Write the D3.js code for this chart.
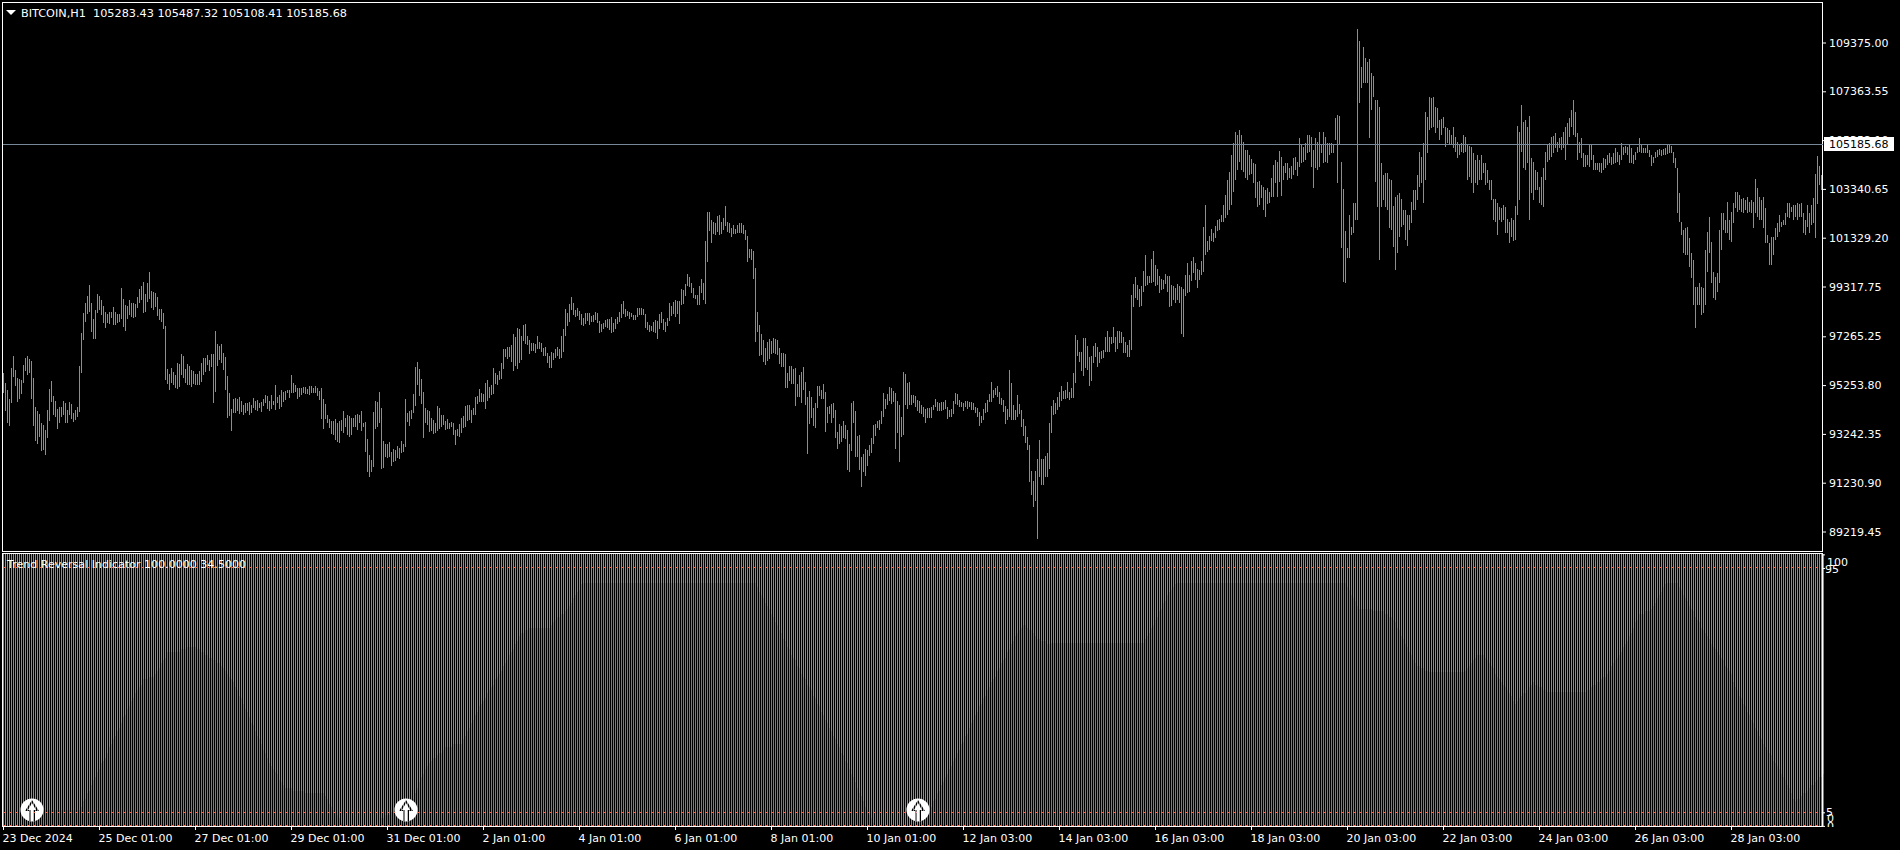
<!DOCTYPE html>
<html><head><meta charset="utf-8">
<script src="https://cdn.jsdelivr.net/npm/d3@7"></script>
<style>
html,body{margin:0;padding:0;background:#000;overflow:hidden}
svg{display:block}
text{font-family:"DejaVu Sans",sans-serif;font-size:11px;fill:#fff;white-space:pre}
</style></head><body>
<svg id="c" width="1900" height="850"></svg>
<script>
const symbolTitle="BITCOIN,H1  105283.43 105487.32 105108.41 105185.68";
const indicatorTitle="Trend Reversal Indicator 100.0000 34.5000";
const lastPrice=105185.68;
const priceTicks=[109375,107363.55,105352.10,103340.65,101329.20,99317.75,97265.25,95253.80,93242.35,91230.90,89219.45];
const dateLabels=["23 Dec 2024","25 Dec 01:00","27 Dec 01:00","29 Dec 01:00","31 Dec 01:00","2 Jan 01:00","4 Jan 01:00","6 Jan 01:00","8 Jan 01:00","10 Jan 01:00","12 Jan 03:00","14 Jan 03:00","16 Jan 03:00","18 Jan 03:00","20 Jan 03:00","22 Jan 03:00","24 Jan 03:00","26 Jan 03:00","28 Jan 03:00"];
const dateBars=[0,48,96,144,192,240,288,336,384,432,480,528,576,624,672,720,768,816,864];
const levelLines=[95,5,0];
const arrowBars=[14,201,457];
// [high, low] of each H1 bar
const priceBars=[
[95735,94911],[95323,94197],[95048,93674],[94664,93578],[95955,94499],[96450,95571],[95873,95213],[95529,94567],[95488,94691],[95461,94883],
[96079,95351],[96381,95845],[96450,95680],[96326,95735],[96244,94691],[95543,93578],[94361,92960],[94183,92823],[94059,93125],[93674,92548],
[93606,92575],[93400,92383],[94224,93084],[95090,93770],[95419,94567],[94801,94018],[94581,93949],[94265,93455],[94348,93702],[94348,93949],
[94595,94018],[94499,93702],[94224,93702],[94554,94004],[94471,93840],[94100,93730],[94224,93812],[94348,93949],[96038,94156],[97384,95763],
[98209,97109],[98621,97865],[98923,98181],[99376,98277],[98621,97453],[97961,97164],[98346,97164],[99006,98236],[98923,98346],[98758,98140],
[98511,97796],[98277,97604],[98181,97796],[98277,97769],[98277,98003],[98456,97727],[98264,97741],[98181,97796],[98181,97865],[99253,97961],
[98786,97632],[98552,97494],[98511,97961],[98758,98140],[98621,98071],[98621,98016],[98593,98071],[98896,98429],[99211,98621],[99335,98758],
[99500,98236],[99006,98250],[99473,98690],[99912,98786],[99115,98415],[99088,98346],[99033,98484],[98896,98099],[98373,97934],[98373,97865],
[98209,97563],[97687,95461],[95914,95296],[95708,95048],[95955,95323],[95804,95255],[95667,95117],[96147,95090],[96120,95158],[96532,95667],
[96450,95529],[95914,95323],[96120,95268],[96038,95255],[95873,95186],[95845,95296],[95708,95255],[95708,95255],[95832,95255],[96147,95392],
[96367,95667],[96367,95804],[96491,96079],[96285,95845],[96532,96010],[96532,94526],[97481,94980],[96944,96038],[96862,96285],[96944,96175],
[96560,95873],[96422,95048],[95626,93894],[94911,93977],[94265,93372],[94677,94114],[94705,94087],[94677,94197],[94773,94059],[94581,94142],
[94430,94018],[94499,94114],[94526,94197],[94567,94032],[94430,94114],[94718,94293],[94581,94224],[94636,94196],[94499,94306],[94567,94155],
[94663,94389],[94828,94499],[94801,94251],[94608,94196],[94842,94279],[94608,94416],[95255,94224],[94773,94499],[94842,94279],[95048,94361],
[94979,94567],[95020,94636],[95048,94938],[95048,94705],[95667,94938],[95351,94938],[95255,94979],[95131,94677],[95131,94746],[95131,94842],
[95186,94911],[95186,94882],[95076,94883],[95213,94842],[95213,94911],[95117,94938],[95213,94911],[95117,94801],[95021,94636],[95131,93853],
[94677,93440],[94471,93853],[94018,93675],[93853,93468],[93784,93235],[93770,93194],[93853,92987],[93674,92919],[93770,92878],[93812,93372],
[94183,93263],[93908,93509],[94018,93194],[93990,93125],[93908,93194],[93881,93537],[94018,93537],[94045,93400],[94018,93674],[94183,93358],
[93702,93537],[93715,92507],[93029,91682],[92369,91448],[92163,91682],[94155,91860],[94595,93441],[94540,93537],[94966,93674],[94306,91778],
[92946,91819],[92822,92273],[92822,92232],[92891,92300],
[92506,91915],[92616,92094],[92575,92135],[92740,92231],[92671,92204],[92946,92437],[92822,92506],[94677,92685],[94114,93743],[94196,93564],
[94224,93839],[94883,94114],[96010,94388],[96202,95254],[95914,94800],[95488,94471],[94965,93069],[94306,93674],[94224,93592],[94196,93317],
[93894,93372],[93811,93234],[93702,93289],[94388,93344],[94306,93454],[94017,93537],[94017,93592],[93784,93399],[93853,93454],[93702,93454],
[93729,93509],[93674,93193],[93399,92781],[93454,93152],[93646,93097],[93894,93262],[93976,93481],[94388,93509],[94430,93756],[94430,93811],
[94224,93674],[94293,94017],[94773,94017],[94801,94471],[95089,94553],[94938,94553],[94883,94553],[95350,94265],[95460,94608],[95185,94704],
[95254,94842],[95955,94883],[95762,95295],[95666,95268],[95831,95460],[96175,95515],[96752,95914],[96752,96422],[96834,96326],[96834,96395],
[96903,96216],[97356,95831],[97246,96037],[97604,95914],[97562,96175],[97274,96285],[97727,97068],[97769,96944],[97274,96903],[97123,96532],
[97000,96642],[96972,96670],[96944,96587],[97274,96724],[97027,96752],[96985,96628],[96793,96463],[96807,96463],[96560,96175],[96463,95955],
[96614,95955],[96560,96285],[96752,96353],[96807,96450],[96752,96340],[97288,96353],[97562,96614],[98387,97274],[98222,97700],[98593,97851],
[98881,98346],[98634,98140],[98346,98043],[98442,98098],[98318,97933],[98181,97714],[98016,97686],[98236,97768],[98208,97906],[98208,97727],
[98098,97851],[98140,97865],[98263,97933],[98236,97796],[97906,97411],[97768,97439],[97796,97576],[97933,97631],[97975,97604],[97988,97521],
[98071,97411],[97796,97439],[97975,97549],[98043,97768],[98263,97865],[98593,98002],[98717,98181],[98373,98043],[98318,98098],[98263,97961],
[98236,98043],[98140,97947],[98140,97933],[98428,98043],[98428,98126],[98428,98126],[98401,98153],[98181,97604],[97851,97521],[97727,97439],
[97686,97494],[97851,97452],[97933,97384],[97906,97164],[98181,97576],[98263,97823],[97961,97521],[97851,97439],[98016,97686],[98634,97906],
[98510,98098],[98675,98181],[98758,98043],[98717,98181],[98730,97768],[99211,98538],[99170,98593],[99417,98923],[99830,99335],[99692,99307],
[99472,99060],[99239,98840],[98964,98785],[98950,98552],[99335,98552],[99623,99033],[99459,98758],[101190,98593],[102385,100338],[102385,101616],
[102055,101107],[101973,101478],[101932,101423],[102220,101561],[102261,101437],[101973,101478],[102124,101643],[102632,101808],[101973,101561],[101932,101506],
[101726,101355],[101849,101478],[101684,101478],[101849,101506],[101932,101506],[101932,101506],[101849,101478],[101643,101231],[101396,100324],[100846,100475],
[100860,100407],[100778,99623],[100077,97027],[98263,97439],[97727,96449],[97356,96491],[97109,96202],[96779,96079],[97027,96257],[97150,96312],
[97068,96532],[97191,96587],[97150,96532],[97109,96491],[96779,96120],[96560,96010],[96573,95982],[96532,95130],[95749,95130],[96037,95433],
[96037,95295],[95927,95295],[95955,94388],[95295,94746],[95666,94746],[95790,94498],[95996,95048],[95378,94430],[94760,92410],[95007,93646],
[94760,93894],[94306,93564],[94512,93481],[95213,94306],[95213,94801],[95048,94677],[95295,94677],[94965,93317],[94361,93674],[94388,94059],
[94471,93674],[94512,93880],[94224,93069],[93317,92616],[93646,92822],[93564,92905],[93770,93069],[93605,93042],[93399,91750],[92822,91668],
[94526,92548],[94595,93702],[94197,92273],[93152,92301],[93194,91751],[92301,91064],[92411,91682],[92617,91503],[92575,91916],[92782,92328],
[93070,92466],[93606,92823],[93647,93152],[93785,93469],[93812,93400],[94197,93647],[94925,93950],[94677,94279],[94884,94430],[95172,94609],
[95131,94471],[95021,94568],[94925,92617],[94595,93262],[94430,92095],[93950,93125],[95791,93194],[95708,94430],[95324,94279],[95392,94430],
[94843,94430],[94843,94499],[94801,94362],[94636,94197],[94595,94087],[94430,94059],[94362,93950],[94252,93702],[94293,93881],[94320,93881],
[94334,93881],[94430,94224],[94677,94334],[94568,94197],[94526,94197],[94568,94197],[94568,94224],[94636,94252],[94362,93853],[94224,93950],
[94265,93950],[94595,94059],[94939,94471],[94884,94430],[94636,94362],[94568,94334],[94526,94197],[94595,94334],[94609,94279],[94568,94362],
[94568,94224],[94526,94224],[94362,94114],[94293,93950],[94155,93565],[93977,93675],[94252,93812],[94526,94114],[94636,94155],[94884,94568],
[95378,94568],[95049,94705],[95131,94843],[95213,94774],[94966,94471],[94719,94430],[94636,94155],[94389,93647],[94265,93812],[95873,93950],
[95324,93812],[94430,93812],[94224,93812],[94856,93950],[94471,94059],[94224,93537],[93853,93152],[93565,92850],[93111,92575],[92782,91270],
[91710,90720],[91284,90212],[91696,90487],[92218,88907],[92988,91476],[92204,91133],[92204,91133],[92328,91476],[92452,91476],[93688,91792],
[94389,93290],[94636,94032],[94526,94059],[94774,94224],[94966,94362],[95213,94595],[95021,94677],[95049,94677],[95378,94705],[94966,94636],
[95117,94719],[95749,94719],[97316,95351],[97110,96450],[96629,96216],[96629,95846],[97192,95626],[97192,95942],[96876,95873],[96423,95227],
[96450,95433],[96876,96148],[97000,96423],[96835,96010],[96615,96175],[96670,96313],[96697,96368],[97247,96615],[97481,96629],[97247,96629],
[97247,96945],[97645,96972],[97247,96615],[97481,96725],[97467,97000],[97453,97000],[97247,96587],[97027,96560],[96903,96423],[97110,96423],
[98964,96697],[99418,98456],[99693,98827],[99377,98758],[99212,98484],[99335,98511],[99954,99102],[100613,99335],[99748,99363],[99748,99445],
[100448,99473],[100778,99514],[100201,99335],[100036,99377],[99748,99061],[99624,99171],[99583,99198],[99830,99418],[99748,99102],[99748,98484],
[99377,98511],[99335,98758],[99239,98621],[99418,98758],[99335,98621],[99308,97357],[99212,97220],[99789,98923],[100284,99061],[99789,99102],
[100366,99555],[100531,99858],[100284,99583],[100036,99253],[99995,99583],[100366,99789],[101781,99926],[102674,100613],[101203,100750],[101397,100820],
[101685,101190],[101520,101150],[101800,101315],[102056,101605],[102100,101640],[102260,101975],[102674,101975],[103086,102138],[103704,102262],[104034,102468],
[104734,102674],[105229,103210],[105682,103704],[105559,104116],[105765,104446],[105559,104116],[105270,104034],[104940,103787],[104940,103704],[104734,103910],
[104555,103950],[104417,103565],[104362,102947],[103634,102576],[103662,102672],[103497,102947],[103428,102466],[103291,102164],[103359,102713],[103222,102768],
[103771,103016],[104321,103016],[104527,103565],[104458,103016],[104912,103634],[104637,103043],[104280,103703],[104390,103978],[104390,103703],[104184,103771],
[104280,103730],[104596,103909],[104665,104115],[104458,103868],[105420,104252],[105145,104390],[105077,104458],[105214,104527],[105558,104830],[105558,104871],
[105489,104252],[104939,103359],[105420,104184],[105283,104115],[105695,104252],[105145,104802],[105695,104390],[105462,104458],[105214,104390],[105214,104733],
[105241,104802],[105145,104802],[106245,105352],[106382,103565],[106341,105187],[104458,100886],[103332,99512],[101614,99443],[100886,100474],[102260,100474],
[101779,101436],[102741,101504],[102768,102054],[109913,102054],[109446,106890],[108374,107481],[109199,107687],[108718,107687],[108580,107687],[108677,105420],
[108100,106588],[107990,107110],[107000,103634],[107000,102604],[106698,100405],[104390,102604],[103909,102878],[104005,102604],[103978,102466],[103730,101711],
[103703,101642],[102631,100955],[103016,99993],[103084,100680],[103153,101367],[102906,101779],[102466,101848],[102466,101230],[102260,100982],[102260,101642],
[102809,101917],[103291,102466],[103291,102466],[103909,102878],[104871,103428],[104665,103565],[105214,102741],[106519,103703],[106313,104802],[107138,105764],
[107069,105833],[107110,105901],[106726,105626],[106657,105833],[106176,105352],[106203,105558],[106313,105833],[105901,105077],[105833,105214],[105764,105145],
[105558,105145],[105901,105008],[105489,104871],[105283,104596],[105145,104733],[105214,104871],[105558,104802],[105489,104871],[105145,103703],[105104,103840],
[105077,103565],[104802,103153],[104527,103565],[104733,103497],[104527,103703],[104733,103703],[104390,103978],[104390,103497],[104115,103565],[103703,103291],
[103703,102878],[102906,102054],[102906,101985],[102741,101436],[102604,102054],[102535,101985],[102672,102054],[102604,101504],[102081,101504],[101985,101092],
[102123,101367],[102054,101202],[102631,101230],[105929,102260],[105695,102878],[106794,104871],[106107,104184],[106176,104115],[105901,104390],[106341,102054],
[104596,103153],[104458,102878],[104115,103291],[104046,103291],[103428,102741],[103840,102672],[104184,102604],[104871,103703],[105145,104458],[105214,104527],
[105489,104665],[105516,104802],[105654,105008],[105283,104871],[105420,105008],[105489,104939],[105695,105008],[105901,104527],[106039,105145],[106245,105489],
[106588,105901],[107000,105558],[106519,105489],[105654,104527],[105283,104802],[105420,104596],[104802,104252],[104733,104252],[104733,104321],[105145,104252],
[105145,104527],[104733,104115],[104390,104115],[104417,104115],[104390,104046],[104390,103978],[104596,104115],[104555,104184],[104733,104321],[104802,104390],
[104665,104321],[104802,104362],[105008,104390],[104871,104458],[104733,104321],[105214,104527],[105077,104733],[105104,104802],[105049,104733],[105145,104390],
[105008,104390],[104733,104362],[104871,104527],[105077,104802],[105420,104871],[105145,104830],[105008,104802],[105008,104802],[105145,104802],[104939,104637],
[104733,104280],[104665,104390],[104871,104596],[104939,104665],[104967,104733],[104939,104692],[104967,104733],[105008,104733],[105145,104774],[105145,104802],
[105104,104802],[104871,104417],[104596,104184],[104184,102356],[103153,101985],[101985,101436],[101642,100680],[101711,100611],[101779,100611],[101298,100130],
[100680,99650],[100405,98550],[99306,97588],[99306,98550],[99443,98550],[99306,98138],[99237,98207],[100817,98550],[101573,99925],[102191,100680],
[101161,99443],[99925,98825],[99718,98756],[99856,99100],[101642,99443],[102329,100817],[102329,101642],[102054,101504],[102809,101504],[102054,101230],
[102397,101161],[102741,101917],[103222,102535],[103222,102397],[103084,102466],[102906,102397],[102947,102329],[102878,102466],[103016,102329],[102809,102397],
[102878,102329],[102809,101711],[103730,102329],[103359,102191],[103016,102054],[102878,102054],[103016,101711],[102535,101092],[101436,101092],[101092,100199],
[101367,100199],[101367,100611],[101711,101230],[101917,101367],[102260,101573],[101985,101779],[102054,101848],[102329,101848],[102768,102191],[102741,102123],
[102604,102397],[102672,102054],[102672,102191],[102741,102054],[102713,102191],[102741,102191],[102329,101504],[102054,101436],[102672,101779],[102329,101504],
[102672,101848],[102947,101917],[103950,101298],[104692,102713],[104280,103497],[103909,103291]
];
// indicator level (blue part) of each bar
const indicatorValues=[
0,0,0,0,0,0,0,0,0,0,
5.9,5.9,5.9,5.9,5.9,5.9,5.9,5.9,5.9,5.9,5.9,5.9,5.9,5.9,5.9,5.9,5.9,5.9,5.9,5.9,5.9,5.9,5.9,5.9,5.9,5.9,5.9,5.9,5.9,
7,9,10,12,13,15,17,18,20,21,23,24,25,
27,29,30,32,33,35,36,38,40,41,43,44,46,47,49,
50,51,52,54,54,54,55,55,55,56,57,58,60,61,62,64,64,64,64,64,64,64,65,65,65,66,66,66,66,66,65,
65,64,64,63,63,62,62,61,61,60,60,59,58,57,56,55,54,53,51,50,48,47,45,43,42,40,38,37,35,33,32,30,28,27,25,23,
22,21,20,19,17,16,15,14,14,14,14,13,13,13,13,13,13,12,12,12,12,12,12,12,12,12,12,11,10,8,7,6,5,4,3,1,0,
0,0,0,0,0,0,0,0,0,0,0,0,0,0,0,0,0,0,
3,3,4,4,4,5,5,5,5,5,6,6,7,7,8,9,10,12,14,16,18,19,21,22,23,24,25,25,26,27,27,28,29,29,29,29,30,30,30,30,30,
32,33,35,36,38,39,41,42,44,45,46,47,49,50,51,52,54,55,56,57,59,60,61,63,64,65,67,68,70,71,71,72,72,73,
73,73,73,73,73,73,73,73,73,73,74,75,76,77,77,78,78,79,80,81,82,84,85,86,87,89,
89.4,89.4,89.4,89.4,89.4,89.4,89.4,89.4,89.4,89.4,89.4,89.4,89.4,89.4,89.4,89.4,89.4,89.4,89.4,89.4,89.4,89.4,89.4,89.4,89.4,89.4,89.4,89.4,89.4,
89.4,89.4,89.4,89.4,89.4,89.4,89.4,89.4,89.4,89.4,89.4,89.4,89.4,89.4,89.4,89.4,89.4,89.4,89.4,89.4,89.4,89.4,89.4,89.4,89.4,89.4,89.4,89.4,89.4,
89.4,89.4,89.4,89.4,89.4,89.4,89.4,89.4,89.4,89.4,89.4,89.4,89.4,89.4,89.4,89.4,89.4,89.4,89.4,89.4,89.4,89.4,89.4,89.4,89.4,89.4,89.4,89.4,89.4,
88,86,85,84,82,81,80,78,77,75,74,72,71,69,68,66,65,63,62,61,59,58,56,55,54,52,51,
50,48,47,45,44,42,41,39,38,36,35,33,32,30,29,27,26,24,23,21,19,18,16,14,12,11,9,7,6,4,3,1,0,
0,0,0,0,0,0,0,0,0,0,0,0,0,0,0,0,0,0,0,0,0,0,0,
1,3,4,6,7,9,10,12,13,15,16,18,19,21,22,24,25,27,28,30,31,33,34,36,38,39,41,42,44,45,47,48,50,
51,53,54,55,57,58,60,61,62,64,65,67,68,70,71,72,73,74,74,73,72,72,71,70,69,69,68,68,68,67,67,
67.3,67.3,67.3,67.3,67.3,67.3,67.3,67.3,67.3,67.3,67.3,67.3,67.3,67.3,67.3,67.3,67.3,67.3,67.3,67.3,67.3,67.3,67.3,
67.3,67.3,67.3,67.3,67.3,67.3,67.3,67.3,67.3,67.3,67.3,67.3,67.3,67.3,67.3,67.3,67.3,67.3,67.3,67.3,67.3,67.3,67.3,67.3,
69,70,71,73,74,76,77,79,80,82,83,85,86,87,88,89,
89.4,89.4,89.4,89.4,89.4,89.4,89.4,89.4,89.4,89.4,89.4,89.4,89.4,89.4,89.4,89.4,89.4,89.4,89.4,89.4,89.4,89.4,89.4,89.4,89.4,89.4,89.4,89.4,
89.4,89.4,89.4,89.4,89.4,89.4,89.4,89.4,89.4,89.4,89.4,89.4,89.4,89.4,89.4,89.4,89.4,89.4,89.4,89.4,89.4,89.4,89.4,89.4,89.4,89.4,89.4,89.4,
89.4,89.4,89.4,89.4,89.4,89.4,89.4,89.4,89.4,89.4,89.4,89.4,89.4,89.4,89.4,89.4,89.4,89.4,89.4,89.4,89.4,89.4,89.4,89.4,89.4,89.4,89.4,89.4,89.4,
88,87,85,84,83,81,80,80,80,80,80,80,80,79,79,79,79,79,79,78,78,77,77,76,75,73,72,70,69,67,66,64,63,61,60,59,59,58,58,57,57,
56.8,56.8,56.8,56.8,56.8,56.8,56.8,56.8,56.8,56.8,56.8,56.8,56.8,56.8,56.8,56.8,56.8,56.8,
57,58,59,60,61,62,63,63,63,63,62,61,60,59,58,56,55,54,53,52,51,50,49,48,46,45,46,47,48,49,49,50,51,52,53,52,52,51,51,50,50,
49.5,49.5,49.5,49.5,49.5,49.5,49.5,49.5,49.5,49.5,49.5,49.5,49.5,49.5,49.5,49.5,49.5,49.5,49.5,49.5,
50,50,51,52,52,53,53,54,55,55,56,57,59,60,61,62,63,64,66,67,68,70,71,73,75,76,78,78,78,79,79,79,80,81,82,84,85,86,88,89,
89.4,89.4,89.4,89.4,89.4,89.4,
88,87,85,84,83,81,80,79,77,76,75,73,72,71,70,69,67,66,65,64,63,62,61,59,58,57,56,53,51,
50,48,47,45,44,42,41,39,38,36,35,33,32,30,29,28,27,26,24,23,22,21,19,18,17,15,14,12,10,
9,10,10,11,12,12,13,14,15,15,16,17,18,18,19
];

const svg=d3.select("#c");
const x=d3.scaleLinear().domain([0,909]).range([3,1821]);
const yPrice=d3.scaleLinear().domain([109375,89219.45]).range([42.5,531.5]);
const yInd=d3.scaleLinear().domain([100,0]).range([554.4,825.9]);

// price bars
svg.append("g").attr("shape-rendering","crispEdges").selectAll("rect").data(priceBars).join("rect")
  .attr("x",(d,i)=>x(i)).attr("width",1)
  .attr("y",d=>Math.round(yPrice(d[0])))
  .attr("height",d=>Math.max(1,Math.round(yPrice(d[1]))-Math.round(yPrice(d[0]))))
  .attr("fill","#20dc14");

// indicator columns
const ind=svg.append("g").attr("shape-rendering","crispEdges");
ind.selectAll("rect.red").data(indicatorValues).join("rect").attr("class","red")
  .attr("x",(d,i)=>x(i)).attr("width",1)
  .attr("y",yInd(100)).attr("height",d=>Math.max(0,yInd(d)-yInd(100)))
  .attr("fill","#ff6347");
ind.selectAll("rect.blue").data(indicatorValues).join("rect").attr("class","blue")
  .attr("x",(d,i)=>x(i)).attr("width",1)
  .attr("y",d=>yInd(d)).attr("height",d=>yInd(0)-yInd(d))
  .attr("fill","#1e90ff");

// dashed levels
svg.append("g").attr("shape-rendering","crispEdges").selectAll("line").data(levelLines).join("line")
  .attr("x1",3).attr("x2",1822)
  .attr("y1",d=>Math.floor(yInd(d))+0.5).attr("y2",d=>Math.floor(yInd(d))+0.5)
  .attr("stroke","#ff6347").attr("stroke-dasharray","3,3");

// arrows
const arrowPath="M0,-11.5A11.5,11.5 0 1 1 0,11.5A11.5,11.5 0 1 1 0,-11.5Z M0,-10L7,1L3,1L3,11L-3,11L-3,1L-7,1Z";
const arrows=svg.append("g").selectAll("g").data(arrowBars).join("g")
  .attr("transform",d=>`translate(${x(d)+1},${yInd(5.9)})`);
arrows.append("path").attr("d",arrowPath).attr("fill","#fff").attr("fill-rule","evenodd");
arrows.append("path").attr("d","M0,-7L4,0L1.5,0L1.5,11L-1.5,11L-1.5,0L-4,0Z").attr("fill","#fff");

// frames
const frame=svg.append("g").attr("fill","none").attr("stroke","#fff").attr("shape-rendering","crispEdges");
frame.append("path").attr("d","M2.5,551.5V2.5H1822.5V551.5Z");
frame.append("path").attr("d","M2.5,826.5V553.5H1822.5V826.5Z");

// last price line
svg.append("line").attr("x1",3).attr("x2",1823)
  .attr("y1",Math.floor(yPrice(lastPrice))+0.5).attr("y2",Math.floor(yPrice(lastPrice))+0.5)
  .attr("stroke","#778899").attr("shape-rendering","crispEdges");

// price axis
const pa=svg.append("g").attr("transform","translate(1822,0)")
  .call(d3.axisRight(yPrice).tickValues(priceTicks).tickSize(4).tickPadding(3).tickFormat(d3.format(".2f")));
pa.select(".domain").remove();
pa.selectAll("line").attr("stroke","#fff");
pa.selectAll("text").attr("x",7).attr("fill","#fff").style("font-family",'"DejaVu Sans",sans-serif').style("font-size","11px");

// last price label
svg.append("rect").attr("x",1824).attr("y",137).attr("width",70).attr("height",14).attr("fill","#fff");
svg.append("text").attr("x",1829).attr("y",148).text(d3.format(".2f")(lastPrice)).style("fill","#000");

// time axis
const labelByBar=new Map(dateBars.map((b,i)=>[b,dateLabels[i]]));
const ta=svg.append("g").attr("transform","translate(0,826)")
  .call(d3.axisBottom(x).tickValues(dateBars).tickSize(4).tickFormat(d=>labelByBar.get(d)));
ta.select(".domain").remove();
ta.selectAll("line").attr("stroke","#fff");
ta.selectAll("text").attr("y",8).attr("text-anchor","start").attr("dx",-1).attr("fill","#fff")
  .style("font-family",'"DejaVu Sans",sans-serif').style("font-size","11px");

// indicator axis
const ia=svg.append("g").attr("transform","translate(1822,0)")
  .call(d3.axisRight(yInd).tickValues([100,95,5,0]).tickSize(3).tickFormat(""));
ia.select(".domain").remove();
ia.selectAll("line").attr("stroke","#fff");
svg.append("defs").append("clipPath").attr("id","axisClip").append("rect")
  .attr("x",1823).attr("y",553).attr("width",77).attr("height",274);
const indLabels=svg.append("g").attr("clip-path","url(#axisClip)");
indLabels.append("text").attr("x",1827).attr("y",566).text("100");
indLabels.append("text").attr("x",1825).attr("y",573).text("95");
indLabels.append("text").attr("x",1826).attr("y",816).text("5");
indLabels.append("text").attr("x",1827).attr("y",822).text("0");
indLabels.append("text").attr("x",1827).attr("y",830).text("0");

// titles
svg.append("path").attr("d","M6,10H16L11,15Z").attr("fill","#fff");
svg.append("text").attr("x",21).attr("y",16.5).attr("textLength",326).attr("lengthAdjust","spacingAndGlyphs").text(symbolTitle);
svg.append("text").attr("x",7).attr("y",568).attr("textLength",239).attr("lengthAdjust","spacingAndGlyphs").text(indicatorTitle);
</script>
</body></html>
